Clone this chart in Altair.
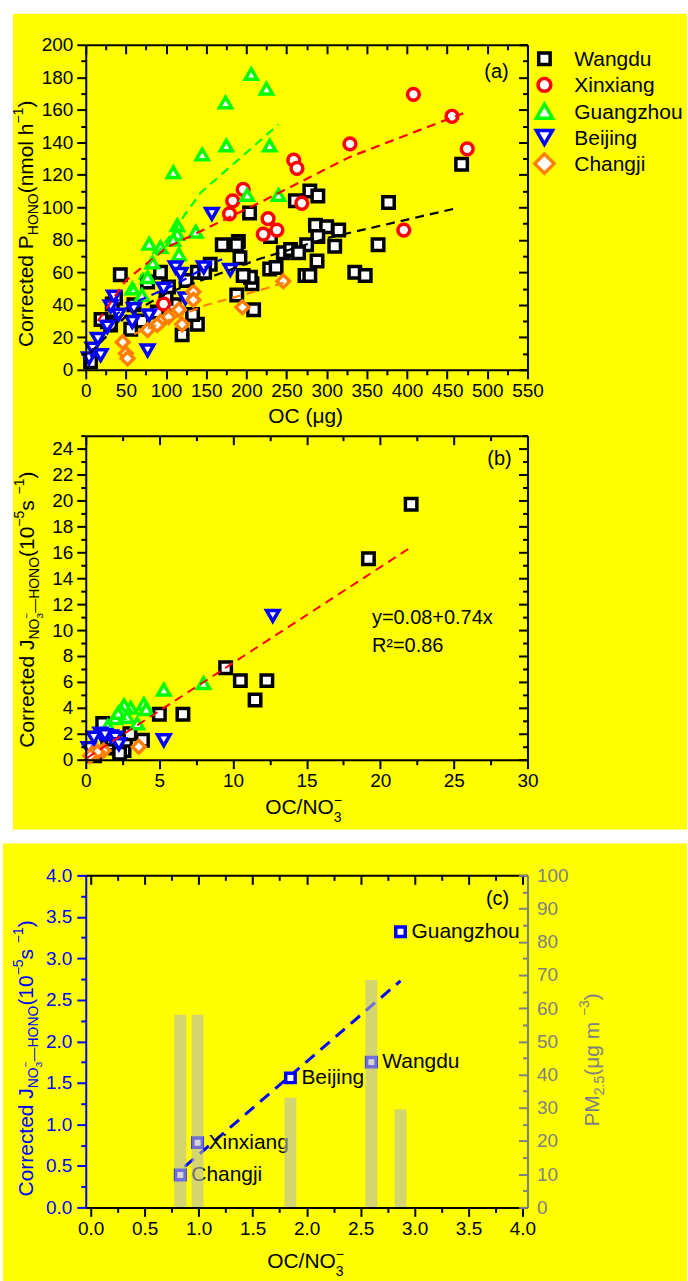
import altair as alt
import pandas as pd

FONT = "Liberation Sans"

# ---------------- shared categories / styles ----------------
SITES = ["Wangdu", "Xinxiang", "Guangzhou", "Beijing", "Changji"]
SITE_COLORS = ["#000000", "#FF0000", "#00FF00", "#0000FF", "#FF8000"]
SITE_SHAPES = ["square", "circle", "triangle-up", "triangle-down", "diamond"]
SITE_SIZES = [132, 165, 260, 260, 380]

# ---------------- panel (a): OC vs corrected P_HONO ----------------
A_WANGDU_X = [468, 279, 289, 261, 377, 286, 300, 315, 289, 230, 275, 310, 364, 246, 255, 265, 288, 229, 237, 273,
              279, 335, 348, 207, 209, 205, 204, 170, 190, 188, 192, 196, 188, 43, 93, 103, 139, 120, 133, 155,
              139, 33, 37, 27, 56, 31, 89, 77, 19, 6, 60, 70, 110, 125, 148, 100]
A_WANGDU_Y = [126.5, 110, 107, 104, 103, 89, 88, 86, 82, 82, 77, 76, 77, 72, 74, 72, 67, 62, 63, 58,
              58, 60, 58, 53, 37, 57, 96.5, 77, 79, 77, 69, 58, 46, 58.5, 60, 51, 28, 21.5, 34, 65,
              60, 40.5, 44, 29.5, 25, 27.6, 35.6, 54, 31, 5, 40, 30, 40, 55, 60, 44]
A_XINXIANG_X = [408, 456, 475, 329, 259, 263, 269, 396, 227, 221, 238, 196, 183, 179, 97]
A_XINXIANG_Y = [169.5, 156, 136, 139, 129, 124, 102.5, 86, 93, 83.5, 86, 111, 104, 96, 40.5]
A_GUANGZHOU_X = [206, 225, 174, 175, 145, 229, 109, 201, 240, 137, 114, 114, 79, 93, 116, 83, 77, 58, 109, 70]
A_GUANGZHOU_Y = [182, 173, 164.5, 138, 132.5, 138, 121.5, 107.5, 107.5, 85, 89, 83.5, 77.5, 75.5, 71, 66, 57, 50, 80, 46]
A_BEIJING_X = [157, 112, 118, 147, 180, 124, 79, 77, 35, 41, 31, 58, 27, 15, 8.5, 18.6, 4, 60, 97]
A_BEIJING_Y = [96, 63, 59, 63, 61.5, 44, 33.5, 12, 45, 34, 39, 29.5, 26.5, 19, 13, 9, 7, 37.5, 50]
A_CHANGJI_X = [246, 195, 134, 134, 120, 116, 103, 93, 89, 77, 46, 50, 52]
A_CHANGJI_Y = [54.5, 38.5, 48, 43, 28, 37, 32.5, 29.5, 27.6, 24.5, 17, 10, 7]

# dashed fit curves
A_FIT_WANGDU_X = [5, 50, 100, 215, 300, 462]
A_FIT_WANGDU_Y = [10, 33, 47, 68, 81, 99.5]
A_FIT_XINXIANG_X = [15, 50, 100, 217, 329, 476]
A_FIT_XINXIANG_Y = [30, 55, 75, 103, 131, 159]
A_FIT_GUANGZHOU_X = [55, 143, 240]
A_FIT_GUANGZHOU_Y = [48, 109, 151]
A_FIT_BEIJING_X = [6, 40, 68, 114, 159, 170]
A_FIT_BEIJING_Y = [8, 35, 43, 53, 66, 68]
A_FIT_CHANGJI_X = [60, 151, 224, 255]
A_FIT_CHANGJI_Y = [22, 40, 50, 55]

# ---------------- panel (b): OC/NO3- vs corrected J ----------------
B_WANGDU_X = [22.1, 19.2, 9.5, 10.5, 12.3, 11.5, 6.6, 5.0, 3.85, 1.15, 2.6, 2.0, 2.7, 3.0, 0.6, 1.5, 2.3, 1.8]
B_WANGDU_Y = [19.7, 15.5, 7.1, 6.1, 6.1, 4.6, 3.5, 3.5, 1.5, 2.8, 0.7, 0.9, 1.5, 2.0, 0.3, 1.2, 0.5, 1.6]
B_GUANGZHOU_X = [8.0, 5.3, 3.95, 3.05, 2.6, 2.4, 2.0, 3.5, 1.5, 2.8, 4.1, 2.2]
B_GUANGZHOU_Y = [5.9, 5.4, 4.3, 4.0, 4.2, 3.8, 3.2, 2.8, 2.6, 3.3, 3.9, 3.6]
B_BEIJING_X = [12.7, 5.3, 1.0, 1.7, 2.0, 0.55, 0.2, 2.25, 1.3]
B_BEIJING_Y = [11.1, 1.5, 2.0, 1.8, 1.7, 1.7, 0.9, 1.2, 1.9]
B_CHANGJI_X = [3.6, 1.2, 0.45, 0.8, 0.3]
B_CHANGJI_Y = [1.0, 0.7, 0.45, 0.6, 0.3]
B_FIT_X = [0.1, 22.1]
B_FIT_Y = [0.15, 16.4]

# ---------------- panel (c): site means ----------------
C_SITES = ["Changji", "Xinxiang", "Beijing", "Wangdu", "Guangzhou"]
C_RATIO = [0.83, 0.99, 1.85, 2.60, 2.87]
C_J = [0.39, 0.78, 1.56, 1.75, 3.32]
C_PM25 = [58, 58, 33, 68.5, 29.5]
C_FIT_X = [0.87, 2.87]
C_FIT_Y = [0.49, 2.73]

# ---------------- helpers ----------------
ONE = pd.DataFrame({"k": [0]})
W = 443
HA, HB, HC = 326, 325, 333

CW = {' ': 278, '(': 333, ')': 333, '-': 333, '\u2212': 584, '\u2014': 1000, '/': 278, '.': 278,
      '=': 584, '+': 584, 'A': 667, 'C': 722, 'H': 722, 'J': 500, 'M': 833, 'N': 722, 'O': 778,
      'P': 667, 'R': 722, 'c': 500, 'd': 556, 'e': 556, 'g': 556, 'h': 556, 'l': 222, 'm': 833,
      'n': 556, 'o': 556, 'r': 333, 's': 500, 't': 278, 'x': 500, '\u03bc': 576}


def tw(s, size):
    return sum(CW.get(ch, 556) for ch in s) * size / 1000.0


def rich_text(segs, x0, y0, rotated, color="black"):
    layers = []
    pos = 0.0
    for text, size, shift, adv in segs:
        if rotated:
            x, y = x0 + shift, y0 - pos
        else:
            x, y = x0 + pos, y0 + shift
        mk = dict(text=text, font=FONT, fontSize=size, align="left", baseline="alphabetic", color=color)
        if rotated:
            mk["angle"] = 270
        layers.append(alt.Chart(ONE).mark_text(**mk).encode(x=alt.value(x), y=alt.value(y)))
        if adv:
            pos += tw(text, size)
    return layers


def label(text, x, y, size=20, color="black", align="center"):
    return alt.Chart(ONE).mark_text(text=text, font=FONT, fontSize=size, color=color, align=align,
                                    baseline="alphabetic").encode(x=alt.value(x), y=alt.value(y))


def box(x1, x2, y1, y2):
    return alt.Chart(ONE).mark_rect(color="#FFFF00").encode(
        x=alt.value(x1), x2=alt.value(x2), y=alt.value(y1), y2=alt.value(y2))


def tvals(lo, hi, step):
    n = int(round((hi - lo) / step))
    return [round(lo + i * step, 6) for i in range(n + 1)]


def major(step):
    return f"abs(datum.value/{step} - round(datum.value/{step})) < 0.000001"


def tsize(step):
    return {"condition": {"test": major(step), "value": 9}, "value": 5}


def axis_main(orient, vals, step, fmt, color="black", lcolor="black", pad=3):
    return alt.Axis(orient=orient, values=vals, format=fmt, labelExpr=f"({major(step)}) ? datum.label : ''",
                    tickSize=tsize(step), tickWidth=2, tickColor=color, domainColor=color, domainWidth=2,
                    labelColor=lcolor, labelFont=FONT, labelFontSize=19, labelPadding=pad, labelFlush=False,
                    labelOverlap=False, grid=False, title=None, zindex=1)


def axis_inner(orient, offset, vals, step, color="black"):
    return alt.Axis(orient=orient, offset=offset, values=vals, labels=False, tickSize=tsize(step), tickWidth=2,
                    tickColor=color, domainColor=color, domainWidth=2, grid=False, title=None, zindex=1)


def site_points(xs_list, ys_list, names):
    rows = []
    for xs, ys, nm in zip(xs_list, ys_list, names):
        for xv, yv in zip(xs, ys):
            rows.append({"x": xv, "y": yv, "site": nm, "idx": len(rows)})
    return pd.DataFrame(rows)


def line_df(xs, ys):
    return pd.DataFrame({"x": xs, "y": ys})


def site_marks(df, sx, sy, ax_x, ax_y):
    return alt.Chart(df).mark_point(fill="white", fillOpacity=1, strokeWidth=3.5, opacity=1).encode(
        x=alt.X("x:Q", scale=sx, axis=ax_x),
        y=alt.Y("y:Q", scale=sy, axis=ax_y),
        stroke=alt.Stroke("site:N", scale=alt.Scale(domain=SITES, range=SITE_COLORS), legend=None),
        shape=alt.Shape("site:N", scale=alt.Scale(domain=SITES, range=SITE_SHAPES), legend=None),
        size=alt.Size("site:N", scale=alt.Scale(domain=SITES, range=SITE_SIZES), legend=None),
        order=alt.Order("idx:Q"),
    )


# ---------------- panel (a) ----------------
sxa = alt.Scale(domain=[0, 550], nice=False, zero=False)
sya = alt.Scale(domain=[0, 200], nice=False, zero=False)
xva, yva = tvals(0, 550, 25), tvals(0, 200, 10)

dfa = site_points([A_WANGDU_X, A_XINXIANG_X, A_GUANGZHOU_X, A_BEIJING_X, A_CHANGJI_X],
                  [A_WANGDU_Y, A_XINXIANG_Y, A_GUANGZHOU_Y, A_BEIJING_Y, A_CHANGJI_Y], SITES)
pts_a = site_marks(dfa, sxa, sya, axis_main("bottom", xva, 50, "d"), axis_main("left", yva, 20, "d", pad=4))

fits_a = [(A_FIT_WANGDU_X, A_FIT_WANGDU_Y), (A_FIT_XINXIANG_X, A_FIT_XINXIANG_Y),
          (A_FIT_GUANGZHOU_X, A_FIT_GUANGZHOU_Y), (A_FIT_BEIJING_X, A_FIT_BEIJING_Y),
          (A_FIT_CHANGJI_X, A_FIT_CHANGJI_Y)]
lines_a = []
for i, (fx, fy) in enumerate(fits_a):
    if i == 0:
        ax_x = axis_inner("bottom", -HA, xva, 50)
        ax_y = axis_inner("left", -W, yva, 20)
    else:
        ax_x = None
        ax_y = None
    lines_a.append(alt.Chart(line_df(fx, fy)).mark_line(color=SITE_COLORS[i], strokeDash=[9, 6], strokeWidth=2.2).encode(
        x=alt.X("x:Q", scale=sxa, axis=ax_x),
        y=alt.Y("y:Q", scale=sya, axis=ax_y),
    ))

# legend (drawn by hand, to the right of the plot)
legend_a = []
for i, nm in enumerate(SITES):
    cy = 14 + 26.3 * i
    legend_a.append(alt.Chart(ONE).mark_point(shape=SITE_SHAPES[i], size=SITE_SIZES[i], stroke=SITE_COLORS[i],
                                              fill="white", fillOpacity=1, strokeWidth=3.5, opacity=1).encode(
        x=alt.value(460), y=alt.value(cy)))
    legend_a.append(label(nm, 490, cy + 7.5, size=21, align="left"))

F, f, ff = 21, 14, 10
ytitle_a = rich_text([("Corrected P", F, 0, True), ("HONO", f, 5, True), ("(nmol h", F, 0, True),
                      ("\u22121", f, -10, True), (")", F, 0, True)], -53, 303, True)
xtitle_a = [label("OC (\u03bcg)", 183, 379, size=21, align="left")]

panel_a = alt.layer(
    box(-73, 603, -31, 787), pts_a, *lines_a, label("(a)", 412, 33), *legend_a,
    *ytitle_a, *xtitle_a
).resolve_axis(x="independent", y="independent").properties(width=W, height=HA)

# ---------------- panel (b) ----------------
sxb = alt.Scale(domain=[0, 30], nice=False, zero=False)
syb = alt.Scale(domain=[0, 25], nice=False, zero=False)
xvb, yvb = tvals(0, 30, 2.5), tvals(0, 25, 1)

dfb = site_points([B_WANGDU_X, B_GUANGZHOU_X, B_BEIJING_X, B_CHANGJI_X],
                  [B_WANGDU_Y, B_GUANGZHOU_Y, B_BEIJING_Y, B_CHANGJI_Y],
                  ["Wangdu", "Guangzhou", "Beijing", "Changji"])
pts_b = site_marks(dfb, sxb, syb, axis_main("bottom", xvb, 5, "d"), axis_main("left", yvb, 2, "d", pad=4))
fit_b = alt.Chart(line_df(B_FIT_X, B_FIT_Y)).mark_line(color="#FF0000", strokeDash=[9, 6], strokeWidth=2).encode(
    x=alt.X("x:Q", scale=sxb, axis=axis_inner("bottom", -HB, xvb, 5)),
    y=alt.Y("y:Q", scale=syb, axis=axis_inner("left", -W, yvb, 2)),
)


def jtitle(x0, y0, color):
    return rich_text([("Corrected J", F, 0, True), ("NO", f, 5, True), ("3", ff, 9, False), ("\u2212", ff, -4, True),
                      ("\u2014HONO", f, 5, True), ("(10", F, 0, True), ("\u22125", f, -10, True), (" s", F, 0, True),
                      ("\u22121", f, -10, True), (")", F, 0, True)], x0, y0, True, color)


def ratio_title(x0, y0):
    return rich_text([("OC/NO", F, 0, True), ("3", f, 8, False), ("\u2212", f, -9, True)], x0, y0, False)


panel_b = alt.layer(
    pts_b, fit_b, label("(b)", 415, 29),
    label("y=0.08+0.74x", 287, 189, size=20, align="left"),
    label("R\u00b2=0.86", 287, 217, size=20, align="left"),
    *jtitle(-52, 313, "black"), *ratio_title(180, 379)
).resolve_axis(x="independent", y="independent").properties(width=W, height=HB)

# ---------------- panel (c) ----------------
sxc = alt.Scale(domain=[0, 4], nice=False, zero=False)
syc = alt.Scale(domain=[0, 4], nice=False, zero=False)
spm = alt.Scale(domain=[0, 100], nice=False, zero=False)
xvc, yvc, pmv = tvals(0, 4, 0.25), tvals(0, 4, 0.25), tvals(0, 100, 5)
BLUE, GREY = "#0000FF", "#808080"

dfc = pd.DataFrame({"site": C_SITES, "x": C_RATIO, "y": C_J, "pm": C_PM25})

fit_c = alt.Chart(line_df(C_FIT_X, C_FIT_Y)).mark_line(color=BLUE, strokeDash=[12, 8], strokeWidth=3).encode(
    x=alt.X("x:Q", scale=sxc, axis=axis_inner("bottom", -HC, xvc, 0.5)),
    y=alt.Y("y:Q", scale=syc, axis=None),
)
pts_c = alt.Chart(dfc).mark_point(shape="square", size=90, fill="white", fillOpacity=1, stroke=BLUE,
                                   strokeWidth=3.5, opacity=1).encode(
    x=alt.X("x:Q", scale=sxc, axis=axis_main("bottom", xvc, 0.5, ".1f")),
    y=alt.Y("y:Q", scale=syc, axis=axis_main("left", yvc, 0.5, ".1f", color=BLUE, lcolor=BLUE, pad=5)),
)
lab_c = alt.Chart(dfc).mark_text(font=FONT, fontSize=21, align="left", baseline="middle", dx=11, color="black").encode(
    x=alt.X("x:Q", scale=sxc, axis=None),
    y=alt.Y("y:Q", scale=syc, axis=None),
    text="site:N",
)
bars_c = alt.Chart(dfc).mark_bar(size=12, color="#B9B9B9", opacity=0.6).encode(
    x=alt.X("x:Q", scale=sxc, axis=None),
    y=alt.Y("pm:Q", scale=spm, axis=alt.Axis(orient="right", values=pmv, format="d",
                                              labelExpr=f"({major(10)}) ? datum.label : ''", ticks=False,
                                              domainColor=GREY, domainWidth=2, labelColor=GREY, labelFont=FONT,
                                              labelFontSize=19, labelPadding=9, labelFlush=False,
                                              labelOverlap=False, grid=False, title=None, zindex=1)),
)
pm_ticks = alt.Chart(dfc).mark_bar(size=12, opacity=0).encode(
    x=alt.X("x:Q", scale=sxc, axis=None),
    y=alt.Y("pm:Q", scale=spm, axis=axis_inner("left", -W, pmv, 10, color=GREY)),
)
pmtitle = rich_text([("PM", F, 0, True), ("2.5", f, 5, True), (" (\u03bcg m", F, 0, True), ("\u22123", f, -10, True),
                     (")", F, 0, True)], 515, 252, True, GREY)

panel_c = alt.layer(
    box(-83, 603, -32, 430), fit_c, pts_c, lab_c, bars_c, pm_ticks, label("(c)", 413, 30),
    *jtitle(-53, 322, BLUE), *ratio_title(182, 394), *pmtitle
).resolve_scale(y="independent").resolve_axis(x="independent", y="independent").properties(width=W, height=HC)


def spacer(h):
    return alt.Chart(ONE).mark_point(opacity=0).encode(x=alt.value(0), y=alt.value(0)).properties(width=W, height=h)


chart = alt.vconcat(panel_a, spacer(66), panel_b, spacer(116), panel_c, spacing=0, bounds="flush").properties(
    padding={"left": 2, "top": 11, "right": 0, "bottom": 0}, background="white"
).configure_view(stroke="transparent")

chart.save("out.html", embed_options={"renderer": "svg", "actions": False})
